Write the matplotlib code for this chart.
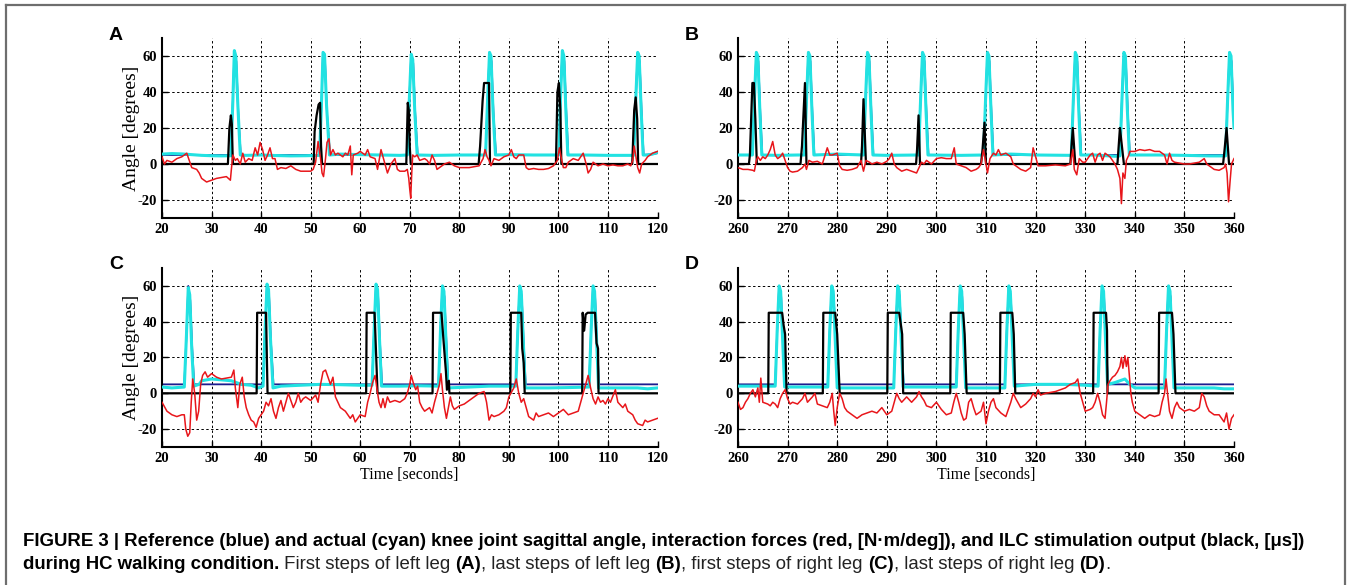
"""Knee angle / interaction force / ILC stimulation, 2x2 panels with figure caption."""

import matplotlib
matplotlib.use("Agg")
import numpy as np
import matplotlib.pyplot as plt

plt.rcParams["axes.unicode_minus"] = False

W, H = 1349, 585

# ---------------- data (time [s], value) ----------------
# Panel A  (first steps, left leg)
REF_A = [(20, 5), (33.9, 5), (34.3, 35), (34.6, 62), (35.0, 57), (35.4, 28), (35.9, 5),
         (51.8, 5), (52.2, 35), (52.5, 62), (52.9, 57), (53.3, 28), (53.9, 5),
         (69.5, 5), (69.9, 35), (70.3, 61), (70.7, 56), (71.1, 28), (71.6, 5),
         (85.3, 5), (85.7, 35), (86.1, 62), (86.5, 57), (86.9, 28), (87.4, 5),
         (100.1, 5), (100.4, 35), (100.8, 63), (101.2, 57), (101.6, 28), (102.0, 5),
         (115.2, 5), (115.6, 35), (116.0, 62), (116.4, 57), (116.8, 28), (117.2, 5),
         (119, 5.5), (120, 6)]
ACT_A = [(20, 5.5), (22, 5.8), (24, 5.6), (26, 5.2), (28, 4.8), (30, 4.6), (32, 4.5),
         (33.9, 4.6), (34.3, 35), (34.6, 63), (34.9, 60), (35.3, 33), (35.8, 5),
         (37, 4.8), (40, 5), (43, 4.7), (46, 4.5), (49, 4.6),
         (51.8, 4.8), (52.2, 35), (52.5, 62), (52.8, 61), (53.2, 33), (53.8, 5),
         (56, 5.5), (60, 5.2), (64, 5), (68, 4.8),
         (69.5, 5), (69.9, 35), (70.3, 61), (70.6, 58), (71.0, 30), (71.5, 5),
         (75, 4.8), (80, 5),
         (85.3, 5), (85.7, 35), (86.1, 62), (86.4, 60), (86.8, 30), (87.3, 5),
         (90, 5.2), (95, 5),
         (100.1, 5), (100.4, 35), (100.8, 63), (101.1, 60), (101.5, 30), (101.9, 5),
         (105, 5), (110, 4.8),
         (115.2, 4.8), (115.6, 35), (116.0, 62), (116.3, 60), (116.7, 30), (117.1, 5),
         (118, 5), (119, 5.5), (120, 6.5)]
STIM_A = [(20, 0), (33.3, 0), (33.6, 20), (33.9, 27), (34.1, 22), (34.3, 0),
          (50.6, 0), (50.8, 18), (51.2, 27), (51.6, 33), (51.9, 34), (52.1, 10), (52.3, 0),
          (69.3, 0), (69.6, 34), (69.8, 30), (70.0, 10), (70.2, 0),
          (83.9, 0), (84.2, 10), (84.7, 35), (85.0, 45), (86.0, 45), (86.2, 0),
          (99.5, 0), (99.8, 40), (100.1, 45), (100.4, 30), (100.6, 0),
          (114.9, 0), (115.3, 30), (115.6, 37), (115.9, 25), (116.1, 0), (120, 0)]
FORCE_A = [(20, 4), (20.5, 0), (21, 2), (22, 1), (23, 3), (24, 4), (25, 6), (25.5, 2),
           (26, -2), (27, -3), (27.5, -5), (28, -8), (29, -10), (30, -9), (31, -8),
           (32, -7.5), (33, -7), (33.8, -9), (34.0, -3), (34.3, 5), (34.8, 2), (35.2, 3),
           (35.8, 0), (36.3, 6), (36.8, 1), (37.5, 3), (38.2, 2), (38.8, 9), (39.3, 5),
           (39.8, 12), (40.3, 8), (40.8, 2), (41.3, 5), (41.8, 9), (42.3, 3), (42.8, 3),
           (43.3, -3), (44, -2), (45, -2.5), (46, -1), (47, -3), (48, -4), (49, -4),
           (50, -4), (50.5, -3), (51, 1), (51.5, 12.5), (52, 3), (52.3, -5), (52.6, -7),
           (53.0, 3), (53.3, 12), (53.7, 14), (54.0, 5), (54.5, 8), (55, 5), (55.5, 6),
           (56, 5), (56.5, 4), (57, 6), (57.5, 5), (58.0, 10), (58.3, -6), (58.6, 5),
           (59.5, 6), (60, 7), (61, 5), (61.5, 8), (62, 4), (63, 3), (63.5, -3), (64.2, 8),
           (64.8, 2), (65.5, -5), (66.2, 0), (67, 3), (67.5, -3), (68, -4), (69, -4),
           (69.5, -3), (69.8, -8), (70.0, -14), (70.2, -19), (70.4, -5), (70.6, 5),
           (71, 4), (71.5, 5), (72, 2), (73, 3), (73.5, 2), (74, 0), (74.5, 5), (75, 2),
           (75.5, -3), (76.5, -1), (77, 0), (78, 1), (79, -1), (80, -2), (81, -2),
           (82, -2), (83, -1.5), (84, -1), (84.8, 3), (85.2, 8), (85.6, 4), (86.0, 2),
           (86.4, -1), (87, 3), (88, 2), (89, 4), (90, 5), (90.5, 8), (91, 4), (91.5, 3),
           (92, 5), (93, 5), (93.5, -2), (94, -3), (95, -2.5), (96, -3), (97, -3),
           (98, -2.5), (99, -1), (99.8, 2), (100.2, 9), (100.6, 3), (101, -2), (101.5, -2),
           (102, 1), (103, 3), (104, 2), (105, 6), (105.6, 0), (106, -5), (106.5, -3),
           (107, 1), (107.5, 0), (108, -1), (109, 0), (110, -1), (111, -0.5), (112, -1),
           (113, -1), (114, 0), (114.6, -1), (115, 2), (115.3, 10), (115.6, 5), (116, -2),
           (116.4, -5), (116.8, 0), (117.5, 2), (118, 4), (119, 6), (120, 7)]

# Panel B  (last steps, left leg)
REF_B = [(260, 5), (262.9, 5), (263.3, 35), (263.7, 62), (264.1, 57), (264.5, 28), (264.9, 5),
         (273.4, 5), (273.8, 35), (274.2, 62), (274.6, 57), (275.0, 28), (275.4, 5),
         (285.3, 5), (285.7, 35), (286.1, 62), (286.5, 57), (286.9, 28), (287.3, 5),
         (296.4, 5), (296.8, 35), (297.2, 62), (297.6, 57), (298.0, 28), (298.4, 5),
         (309.5, 5), (309.9, 35), (310.3, 62), (310.7, 57), (311.1, 28), (311.5, 5),
         (327.2, 5), (327.6, 35), (328.0, 62), (328.4, 57), (328.8, 28), (329.2, 5),
         (337.0, 5), (337.4, 35), (337.8, 62), (338.2, 57), (338.6, 28), (339.0, 5),
         (358.3, 5), (358.7, 35), (359.1, 62), (359.5, 57), (359.9, 28), (360, 22)]
ACT_B = [(260, 5), (262.9, 5), (263.3, 35), (263.7, 62), (264.0, 60), (264.4, 30), (264.8, 5),
         (268, 4.8), (272, 5), (273.4, 5), (273.8, 35), (274.2, 62), (274.5, 60), (274.9, 30),
         (275.3, 5), (280, 5.5), (285.3, 5), (285.7, 35), (286.1, 62), (286.4, 60),
         (286.8, 30), (287.2, 5), (290, 4.8), (296.4, 5), (296.8, 35), (297.2, 62),
         (297.5, 60), (297.9, 30), (298.3, 5), (305, 4.8), (309.5, 5), (309.9, 35),
         (310.3, 62), (310.6, 60), (311.0, 30), (311.4, 5), (315, 5.5), (320, 5),
         (327.2, 4.8), (327.6, 35), (328.0, 62), (328.3, 60), (328.7, 30), (329.1, 5),
         (332, 5), (336, 4.3), (337.0, 4.5), (337.4, 35), (337.8, 62), (338.1, 60),
         (338.5, 30), (338.9, 5), (345, 5), (350, 4.8), (355, 4.5), (358.3, 4.5),
         (358.7, 35), (359.1, 62), (359.4, 60), (359.8, 30), (360, 20)]
STIM_B = [(260, 0), (262.2, 0), (262.4, 5), (262.9, 45), (263.2, 45), (263.5, 25), (263.8, 0),
          (272.6, 0), (272.9, 10), (273.5, 45), (273.8, 0),
          (284.8, 0), (285.0, 10), (285.3, 36), (285.8, 0),
          (295.9, 0), (296.1, 8), (296.4, 27), (296.7, 0),
          (309.0, 0), (309.3, 8), (309.7, 23), (310.0, 0),
          (327.0, 0), (327.2, 8), (327.5, 20), (328.0, 0),
          (336.5, 0), (336.7, 8), (337.0, 20), (337.8, 0),
          (357.8, 0), (358.1, 8), (358.5, 20), (359.0, 0), (360, 0)]
FORCE_B = [(260, -2), (261, -3), (262, -3), (263, -3.5), (263.3, -4), (263.7, 2), (264, 4),
           (264.5, 2), (265, 4), (265.5, 3), (266, 5), (266.5, 8), (267, 12.5), (267.5, 5),
           (268, 3), (268.5, 4), (269, 6), (269.5, 2), (270, -2), (270.5, -4), (271, -4.5),
           (272, -4), (273, -2), (273.5, 0), (273.8, -3), (274.3, 2), (275, 1), (276, 1.5),
           (277, 0), (278, 9), (278.5, 5), (279, 5), (280, 6), (280.5, -1), (281, -3),
           (282, -3.5), (283, -3), (284, -2), (284.8, 2), (285.3, -4), (285.8, 2),
           (286.5, 1), (287, 0), (288, 1), (289, 0), (290, 1.5), (290.5, 3), (291, 6),
           (291.5, 0), (292, -2), (292.5, -3), (293, -4), (294, -3), (295, -4), (296, -5),
           (296.5, -2), (297, 1), (297.5, 0), (298, 2), (299, 0), (300, 3), (301, 3.5),
           (302, 3), (303, 3), (303.6, 9), (304.0, 0), (305, -1), (306, -2), (307, -4),
           (308, -3), (308.5, -2), (309, 0), (309.5, 8), (310, 0), (310.3, -5), (310.8, 3),
           (311.5, 6), (312, 5), (312.5, 8), (313, 5), (314, 6), (315, 4), (315.5, 0),
           (316, -1), (317, -3), (318, -4), (319, -2), (319.5, 9), (320, 4), (320.5, -1),
           (322, -1), (324, -0.5), (326, -1), (327, 0), (327.5, 8), (327.8, -3),
           (328.3, -6), (328.8, 3), (329.5, 1), (330, 1), (331, 5), (331.5, 6), (332, 1),
           (332.5, 5), (333, 6), (333.5, 2), (334, 6), (335, 4), (336, 0), (336.5, -3),
           (337, -8), (337.3, -22), (337.6, -5), (338, -8), (338.3, 2), (338.8, 5),
           (339, 7), (340, 7), (341, 8), (342, 7.5), (343, 8), (344, 7), (345, 7), (346, 5),
           (346.5, 0), (347, 6), (347.5, 2), (348, 1), (349, 0.5), (350, 0), (351, 0),
           (352, 0.5), (353, 1), (354, 3), (354.5, 0), (355, -1), (356, -3), (357, -3.5),
           (358, -2), (358.3, 0), (358.6, -5), (358.9, -21), (359.2, -10), (359.5, 0),
           (360, 3)]

# Panel C  (first steps, right leg)
REF_C = [(20, 5), (24.5, 5), (24.9, 30), (25.3, 60), (25.7, 52), (26.1, 25), (26.5, 5),
         (40.4, 5), (40.8, 35), (41.2, 61), (41.6, 55), (42.0, 28), (42.5, 5),
         (62.4, 5), (62.8, 35), (63.2, 61), (63.6, 55), (64.0, 28), (64.4, 5),
         (75.8, 5), (76.2, 35), (76.6, 60), (77.0, 54), (77.4, 28), (77.8, 5),
         (91.4, 5), (91.8, 35), (92.2, 60), (92.6, 54), (93.0, 28), (93.4, 5),
         (106.2, 5), (106.6, 35), (107.0, 60), (107.4, 54), (107.8, 28), (108.2, 5),
         (120, 5)]
ACT_C = [(20, 3.5), (22, 3), (24.5, 3.5), (24.9, 30), (25.3, 59), (25.6, 55), (26.0, 25),
         (26.4, 4), (27.5, 5), (28, 7), (30, 8), (32, 7.5), (34, 7), (35, 6), (36, 5),
         (38, 4.5), (39.5, 3), (40.4, 4), (40.8, 35), (41.2, 61), (41.5, 58), (41.9, 30),
         (42.4, 3), (44, 4), (48, 4.5), (52, 5), (56, 4.8), (60, 4.5), (62.4, 4.5),
         (62.8, 35), (63.2, 61), (63.5, 58), (63.9, 30), (64.3, 4), (68, 4), (72, 4.2),
         (75.8, 4), (76.2, 35), (76.6, 60), (76.9, 57), (77.3, 30), (77.7, 3), (82, 3.5),
         (86, 4), (91.4, 4), (91.8, 35), (92.2, 60), (92.5, 57), (92.9, 30), (93.3, 3),
         (98, 3), (102, 3.2), (106.2, 3.5), (106.6, 35), (107.0, 60), (107.3, 57),
         (107.7, 30), (108.1, 3), (112, 3), (116, 3), (118, 2.5), (120, 3)]
STIM_C = [(20, 0), (39.1, 0), (39.2, 45), (41.0, 45), (41.3, 0),
          (61.2, 0), (61.3, 45), (62.9, 45), (63.5, 0),
          (74.6, 0), (74.7, 45), (76.4, 45), (76.8, 30), (77.3, 12), (77.5, 2), (77.9, 7),
          (78.0, 0),
          (90.3, 0), (90.4, 45), (92.5, 45), (92.7, 25), (93.0, 17), (93.2, 0),
          (104.8, 0), (104.9, 45), (105.2, 35), (105.5, 44), (105.9, 45), (107.4, 45),
          (107.7, 28), (108.0, 25), (108.1, 0), (120, 0)]
FORCE_C = [(20, -5), (21, -10), (22, -12), (23, -13), (24, -12), (24.5, -12), (24.8, -20),
           (25.2, -24), (25.6, -22), (25.9, -5), (26.2, 8), (26.6, 0), (27.0, -15),
           (27.4, -10), (27.8, 5), (28.2, 10), (28.7, 12), (29.2, 9), (30, 11), (31, 9),
           (32, 8), (33, 8.5), (34, 9), (34.5, 13), (34.8, 3), (35.3, -8), (35.7, 5),
           (36.2, 9), (36.6, -2), (37.0, -8), (37.5, -12), (38.0, -15), (38.5, -16),
           (39.0, -19), (39.5, -14), (40.0, -12), (40.5, -10), (41, -5), (41.5, -7),
           (42, -3), (42.5, -10), (43, -14), (43.5, -8), (44, -4), (44.5, -10), (45, -5),
           (45.5, 0), (46, -4), (46.5, -8), (47, -5), (47.5, 0), (48, -5), (48.5, -3),
           (49, -2), (50, -4), (51, -1), (51.5, -5), (52, 5), (52.5, 12), (53, 13),
           (53.5, 9), (54, 5), (54.5, 9), (55, -2), (56, -8), (57, -10), (58, -14),
           (58.5, -12), (59, -16), (60, -12), (61, -13), (61.5, -5), (62, 0), (62.5, 6),
           (63.0, 10), (63.4, 2), (63.8, -5), (64.2, -8), (64.6, -3), (65, -8), (65.5, -2),
           (66, -5), (67, -4), (68, -5), (69, -3), (69.5, 0), (70, 5), (70.3, 10),
           (70.7, 6), (71.2, 2), (71.6, 4), (72, -5), (72.5, -8), (73, -10), (74, -8),
           (74.5, -11), (75, -5), (75.5, 0), (76, 5), (76.3, 11), (76.6, 2), (77, -8),
           (77.4, -14), (77.8, -8), (78.2, -2), (78.6, -7), (79, -9), (80, -7), (81, -6),
           (82, -4), (83, -2), (84, 0), (85, 1), (85.5, -5), (86, -15), (86.5, -12),
           (87, -13), (88, -12), (89, -10), (89.5, -8), (90, -2), (91, 3), (91.5, 8),
           (92, 0), (92.5, -5), (93, -3), (93.5, -8), (94, -13), (95, -15), (95.5, -11),
           (96, -13), (97, -12), (98, -11), (99, -13), (100, -11), (101, -9), (102, -12),
           (103, -11), (104, -10), (104.5, -5), (105, 0), (105.5, 5), (106, 10),
           (106.5, 3), (107, -3), (107.5, -6), (108, -2), (108.5, -5), (109, -4),
           (109.5, -6), (110, -3), (110.5, -5), (111.5, 2), (112, -5), (113, -8),
           (113.5, -6), (114, -10), (115, -12), (115.5, -15), (116, -17), (117, -18),
           (117.5, -15), (118, -16), (119, -15), (120, -14)]

# Panel D  (last steps, right leg)
REF_D = [(260, 5), (267.5, 5), (267.9, 35), (268.3, 60), (268.7, 54), (269.1, 28), (269.5, 5),
         (278.1, 5), (278.5, 35), (278.9, 60), (279.3, 54), (279.7, 28), (280.1, 5),
         (291.4, 5), (291.8, 35), (292.2, 60), (292.6, 54), (293.0, 28), (293.4, 5),
         (304.0, 5), (304.4, 35), (304.8, 60), (305.2, 54), (305.6, 28), (306.0, 5),
         (313.8, 5), (314.2, 35), (314.6, 60), (315.0, 54), (315.4, 28), (315.8, 5),
         (332.6, 5), (333.0, 35), (333.4, 60), (333.8, 54), (334.2, 28), (334.6, 5),
         (346.0, 5), (346.4, 35), (346.8, 60), (347.2, 54), (347.6, 28), (348.0, 5),
         (360, 5)]
ACT_D = [(260, 4), (265, 4), (267.5, 4), (267.9, 35), (268.3, 60), (268.6, 57), (269.0, 30),
         (269.4, 3.5), (273, 3.5), (278.1, 3.5), (278.5, 35), (278.9, 60), (279.2, 57),
         (279.6, 30), (280.0, 3), (285, 3), (291.4, 3), (291.8, 35), (292.2, 60),
         (292.5, 57), (292.9, 30), (293.3, 3.5), (298, 3.5), (304.0, 3.5), (304.4, 35),
         (304.8, 60), (305.1, 57), (305.5, 30), (305.9, 3), (310, 3), (313.8, 3),
         (314.2, 35), (314.6, 60), (314.9, 57), (315.3, 30), (315.7, 4), (320, 5),
         (326, 5), (330, 4.5), (332.6, 4), (333.0, 35), (333.4, 60), (333.7, 57),
         (334.1, 30), (334.5, 5), (336, 6), (338, 8), (339, 5), (340, 3), (343, 3),
         (346.0, 3), (346.4, 35), (346.8, 60), (347.1, 57), (347.5, 30), (347.9, 3),
         (352, 3), (356, 3), (358, 2.5), (360, 2.5)]
STIM_D = [(260, 0), (266.1, 0), (266.2, 45), (268.9, 45), (269.2, 38), (269.5, 33), (269.8, 0),
          (277.1, 0), (277.2, 45), (279.6, 45), (280.0, 33), (280.5, 0),
          (290.1, 0), (290.2, 45), (292.5, 45), (293.1, 33), (293.3, 0),
          (302.8, 0), (302.9, 45), (305.4, 45), (305.7, 33), (306.1, 0),
          (312.8, 0), (312.9, 45), (315.3, 45), (315.6, 33), (315.9, 0),
          (331.6, 0), (331.7, 45), (334.2, 45), (334.4, 35), (334.5, 0),
          (344.8, 0), (344.9, 45), (347.5, 45), (347.8, 33), (348.2, 0), (360, 0)]
FORCE_D = [(260, -5), (260.5, -9), (261, -8), (261.5, -5), (262, -3), (262.5, 0), (263, 2),
           (263.5, -2), (264, 3), (264.3, -5), (264.6, 8.5), (265, -5), (266, -6),
           (266.5, -7), (267, -5), (267.5, -6), (268, -8), (268.5, -3), (269, 0),
           (269.5, 2), (270, -3), (270.5, -6), (271, -5), (272, -6), (273, -3), (273.5, 0),
           (274, -5), (275, -2), (275.5, 0), (276, -6), (277, -7), (278, -8), (278.5, -5),
           (279, 0), (279.3, -10), (279.6, -18), (280, -8), (280.5, 0), (281, -3),
           (281.5, -8), (282, -10), (283, -12), (284, -14), (285, -12), (286, -11),
           (287, -10), (288, -11), (289, -8), (290, -12), (291, -10), (291.5, -5),
           (292, 0), (292.5, -3), (293, -5), (294, -2), (295, -5), (296, -2), (296.5, 1),
           (297, -2), (297.5, -4), (298, -7), (299, -8), (300, -5), (301, -9), (302, -12),
           (303, -11), (303.5, -5), (304, 0), (304.5, -5), (305, -11), (305.5, -15),
           (306, -14), (306.5, -5), (307, -3), (307.5, -8), (308, -12), (309, -10),
           (309.5, -5), (310, -17), (310.5, -10), (311, -5), (311.5, -3), (312, -8),
           (313, -11), (314, -13), (315, -5), (315.5, 0), (316, -3), (317, -8), (318, -6),
           (319, -3), (319.5, 0), (320, -2), (320.5, 2), (321, -1), (322, 0), (323, 0.5),
           (324, 1), (325, 2), (326, 3), (327, 5), (328, 6), (328.5, 8), (329, 0),
           (329.5, -5), (330, -10), (331, -9), (331.5, -8), (332, -5), (332.5, 0),
           (333, -5), (333.5, -12), (334, -14), (334.3, -5), (334.6, 5), (335, 7),
           (335.5, 9), (336, 10), (336.5, 12), (337, 15), (337.3, 20), (337.6, 14),
           (338, 21), (338.3, 15), (338.6, 20), (338.9, 10), (339.2, 0), (339.5, -5),
           (340, -10), (341, -12), (342, -14), (343, -12), (344, -13), (345, -12),
           (345.5, -5), (346, 0), (346.3, 8), (346.6, 0), (347, -10), (347.5, -14),
           (348, -8), (348.5, -5), (349, -8), (350, -10), (351, -9), (352, -10), (353, -8),
           (353.5, 0), (354, -2), (354.5, -7), (355, -10), (356, -12), (357, -12),
           (358, -16), (358.5, -11), (359, -20), (359.5, -14), (360, -12)]

PANELS = [
    # letter, xlim, ref, actual, stim, force, box (left, top, right, bottom) in px
    ("A", (20, 120), REF_A, ACT_A, STIM_A, FORCE_A, (162, 38, 657.5, 218)),
    ("B", (260, 360), REF_B, ACT_B, STIM_B, FORCE_B, (738, 38, 1234, 218)),
    ("C", (20, 120), REF_C, ACT_C, STIM_C, FORCE_C, (162, 268, 657.5, 447)),
    ("D", (260, 360), REF_D, ACT_D, STIM_D, FORCE_D, (738, 268, 1234, 447)),
]
YTICKS = [-20, 0, 20, 40, 60]

CAPTION_1 = ("FIGURE 3 | Reference (blue) and actual (cyan) knee joint sagittal angle, "
             "interaction forces (red, [N\u00b7m/deg]), and ILC stimulation output "
             "(black, [\u03bcs])")
CAPTION_2 = [
    ("during HC walking condition.", "bold"),
    (" First steps of left leg ", "normal"),
    ("(A)", "bold"),
    (", last steps of left leg ", "normal"),
    ("(B)", "bold"),
    (", first steps of right leg ", "normal"),
    ("(C)", "bold"),
    (", last steps of right leg ", "normal"),
    ("(D)", "bold"),
    (".", "normal"),
]

SERIF = ["Liberation Serif", "DejaVu Serif"]
SANS = ["Liberation Sans", "DejaVu Sans"]

C_REF = "#1c1c8e"
C_ACT = "#22e2e2"
C_STIM = "#000000"
C_FORCE = "#e8161b"


def fx(px):
    return px / W


def fy(py):
    return 1 - py / H


def draw_panel(fig, letter, xlim, ref, act, stim, force, box):
    l, t, r, b = box
    ax = fig.add_axes([fx(l), fy(b), fx(r) - fx(l), fy(t) - fy(b)])

    for data, col, lw, z in [(ref, C_REF, 1.3, 2), (act, C_ACT, 2.2, 3),
                             (stim, C_STIM, 1.6, 4), (force, C_FORCE, 1.1, 5)]:
        arr = np.array(data, dtype=float)
        ax.plot(arr[:, 0], arr[:, 1], color=col, lw=lw, zorder=z)

    ax.set_xlim(*xlim)
    ax.set_ylim(-30, 70)
    ax.set_xticks(np.arange(xlim[0], xlim[1] + 1, 10))
    ax.set_yticks(YTICKS)
    ax.grid(True, color="black", linestyle=(0, (2.5, 2.5)), linewidth=0.7)
    ax.set_axisbelow(True)

    for side in ("top", "right"):
        ax.spines[side].set_visible(False)
    for side in ("left", "bottom"):
        ax.spines[side].set_linewidth(1.5)

    ax.tick_params(direction="in", length=4, width=1, pad=3.5)
    for lab in ax.get_xticklabels() + ax.get_yticklabels():
        lab.set_fontfamily(SERIF)
        lab.set_fontweight("bold")
        lab.set_fontsize(10.5)

    if letter in ("A", "C"):
        ax.text(-30 / (r - l), 0.5, "Angle [degrees]", transform=ax.transAxes,
                rotation=90, ha="center", va="center", fontsize=14,
                family=SERIF)
    if letter in ("C", "D"):
        ax.text(0.5, -28 / (b - t), "Time [seconds]", transform=ax.transAxes,
                ha="center", va="center", fontsize=11.5, family=SERIF)

    fig.text(fx(l - 46), fy(t - 3), letter, ha="center", va="center",
             fontsize=14, fontweight="bold", family=SANS)
    return ax


def draw_caption(fig):
    renderer = fig.canvas.get_renderer()
    x0, target_w = 22.7, 1303 - 22.7

    t1 = fig.text(fx(x0), fy(546), CAPTION_1, ha="left", va="baseline",
                  fontsize=12, fontweight="bold", family=SANS)
    w = t1.get_window_extent(renderer).width
    size = 12 * target_w / w
    t1.set_fontsize(size)

    x = x0
    for piece, weight in CAPTION_2:
        t = fig.text(fx(x), fy(569), piece, ha="left", va="baseline",
                     fontsize=size, fontweight=weight, family=SANS,
                     color="black" if weight == "bold" else "#222222")
        bb = t.get_window_extent(renderer)
        x = bb.x1
    return size


def main():
    fig = plt.figure(figsize=(W / 100, H / 100), dpi=100)

    for letter, xlim, ref, act, stim, force, box in PANELS:
        draw_panel(fig, letter, xlim, ref, act, stim, force, box)

    # thin frame around the figure (open at the bottom)
    fr = dict(color="#6e6e6e", lw=1.6, transform=fig.transFigure)
    fig.add_artist(plt.Line2D([fx(6), fx(6)], [0, fy(5)], **fr))
    fig.add_artist(plt.Line2D([fx(6), fx(1345)], [fy(5), fy(5)], **fr))
    fig.add_artist(plt.Line2D([fx(1345), fx(1345)], [0, fy(5)], **fr))

    fig.canvas.draw()
    draw_caption(fig)

    fig.savefig("out.png", dpi=100)


if __name__ == "__main__":
    main()
